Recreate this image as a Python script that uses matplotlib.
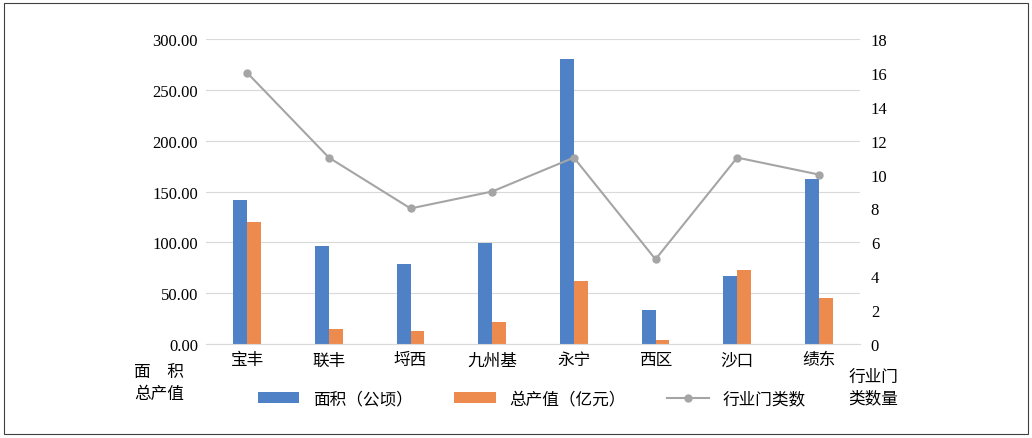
import matplotlib.pyplot as plt
import numpy as np

plt.rcParams['font.family'] = ['Liberation Serif', 'Noto Sans CJK SC']

towns = ['宝丰', '联丰', '埒西', '九州基', '永宁', '西区', '沙口', '绩东']
area = [142, 96.5, 79, 99.5, 280, 33.5, 67, 162]
output = [120, 14.5, 13, 21.5, 62, 4, 73, 45]
industries = [16, 11, 8, 9, 11, 5, 11, 10]

fig = plt.figure(figsize=(10.32, 4.39), dpi=100)
fig.patches.append(plt.Rectangle((0.004, 0.01), 0.992, 0.98, transform=fig.transFigure,
                                 fill=False, edgecolor='#404040', linewidth=0.8))
ax = fig.add_axes([0.2, 0.214, 0.633, 0.695])
x = np.arange(len(towns))
w = 0.17
ax.bar(x - w / 2, area, w, color='#4f81c7', label='面积（公顷）')
ax.bar(x + w / 2, output, w, color='#ed8b4f', label='总产值（亿元）')
ax.set_ylim(0, 300)
ax.set_yticks(np.arange(0, 301, 50))
ax.set_yticklabels([f'{v:.2f}' for v in np.arange(0, 301, 50)])
ax.set_xlim(-0.5, len(towns) - 0.5)
ax.set_xticks(x)
ax.set_xticklabels(towns)
ax.grid(axis='y', color='#d9d9d9', linewidth=0.8)
ax.set_axisbelow(True)
for s in ['top', 'right', 'left']:
    ax.spines[s].set_visible(False)
ax.spines['bottom'].set_color('#d9d9d9')
ax.tick_params(length=0, labelsize=12, pad=6)

ax2 = ax.twinx()
ax2.plot(x, industries, color='#a5a5a5', marker='o', markersize=5, linewidth=1.5, label='行业门类数')
ax2.set_ylim(0, 18)
ax2.set_yticks(range(0, 19, 2))
for s in ax2.spines.values():
    s.set_visible(False)
ax2.tick_params(length=0, labelsize=12, pad=8)

fig.text(0.13, 0.125, '面　积\n总产值', fontsize=12, linespacing=1.5, va='center')
fig.text(0.822, 0.115, '行业门\n类数量', fontsize=12, linespacing=1.5, va='center')

h1, l1 = ax.get_legend_handles_labels()
h2, l2 = ax2.get_legend_handles_labels()
fig.legend(h1 + h2, l1 + l2, loc='center', bbox_to_anchor=(0.515, 0.088), ncol=3,
           frameon=False, fontsize=12, columnspacing=2.5, handlelength=2.5)

fig.savefig('out.png', dpi=100)
